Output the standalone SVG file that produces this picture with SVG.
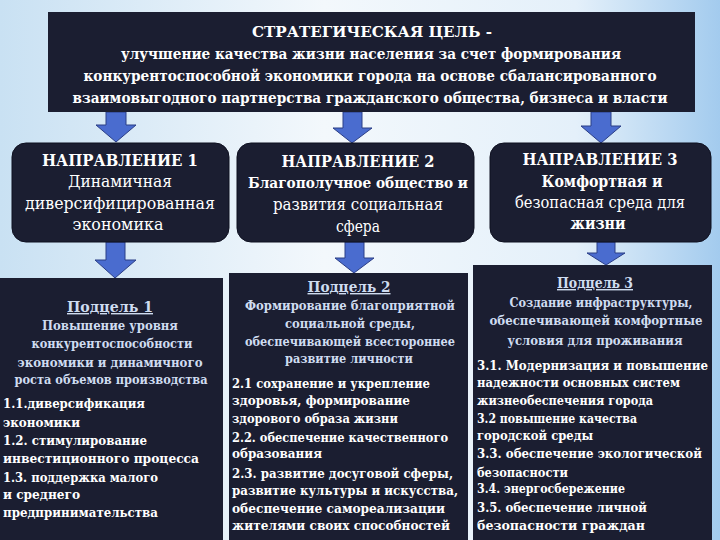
<svg xmlns="http://www.w3.org/2000/svg" width="720" height="540" viewBox="0 0 720 540">
<defs>
<linearGradient id="bg" x1="0" y1="0" x2="1" y2="0">
<stop offset="0" stop-color="#c9e1f3"/>
<stop offset="0.45" stop-color="#f3f8fc"/>
<stop offset="0.8" stop-color="#e4f0fa"/>
<stop offset="1" stop-color="#a3cbee"/>
</linearGradient>
<style>
.box{fill:#1b1e31}
.dir{fill:#1b1e31;stroke:#0e1020;stroke-width:1}
.arr{fill:#4a6ccf;stroke:#2b3e86;stroke-width:1}
.t{font-size:15px;font-weight:bold;text-anchor:middle;fill:#ffffff}
.d{font-size:16px;font-weight:bold;text-anchor:middle;fill:#ffffff}
.dn{font-size:16px;text-anchor:middle;fill:#ffffff}
.h{font-size:13px;font-weight:bold;text-anchor:middle;fill:#cfdcf0}
.hu{font-size:14px;font-weight:bold;text-anchor:middle;text-decoration:underline;fill:#cfdcf0}
.l{font-size:12.5px;font-weight:bold;fill:#ffffff}
</style>
</defs>
<rect x="0" y="0" width="720" height="540" fill="url(#bg)"/>

<g id="connectors">
<polygon class="arr" points="106,112 126,112 126,125 136,125 116,142 96,125 106,125"/>
<polygon class="arr" points="343,112 362,112 362,128 372,128 352,143 333,128 343,128"/>
<polygon class="arr" points="591,112 611,112 611,126 621,126 601,143 581,126 591,126"/>
<polygon class="arr" points="106,242 125,242 125,260 136,260 115,278 95,260 106,260"/>
<polygon class="arr" points="345,242 364,242 364,258 374,258 354,273 335,258 345,258"/>
<polygon class="arr" points="597,242 615,242 615,253 625,253 606,265 587,253 597,253"/>
</g>

<g font-family="DejaVu Serif, Liberation Serif, serif">
<g id="goal">
<rect class="box" x="48" y="12" width="647" height="100"/>
<text class="t" x="372" y="37" textLength="240" lengthAdjust="spacingAndGlyphs">СТРАТЕГИЧЕСКАЯ ЦЕЛЬ -</text>
<text class="t" x="371" y="59" textLength="500" lengthAdjust="spacingAndGlyphs">улучшение качества жизни населения за счет формирования</text>
<text class="t" x="370" y="81" textLength="573" lengthAdjust="spacingAndGlyphs">конкурентоспособной экономики города на основе сбалансированного</text>
<text class="t" x="370" y="103" textLength="595" lengthAdjust="spacingAndGlyphs" style="font-size:14px">взаимовыгодного партнерства гражданского общества, бизнеса и власти</text>
</g>

<g id="dir1">
<rect class="dir" x="12" y="143" width="217" height="99" rx="14"/>
<text class="d" x="120" y="166" textLength="156" lengthAdjust="spacingAndGlyphs">НАПРАВЛЕНИЕ 1</text>
<text class="dn" x="120" y="187" textLength="104" lengthAdjust="spacingAndGlyphs">Динамичная</text>
<text class="dn" x="120" y="209" textLength="190" lengthAdjust="spacingAndGlyphs">диверсифицированная</text>
<text class="dn" x="118" y="230" textLength="91" lengthAdjust="spacingAndGlyphs">экономика</text>
</g>

<g id="dir2">
<rect class="dir" x="237" y="143" width="237" height="99" rx="14"/>
<text class="d" x="358" y="167" textLength="153" lengthAdjust="spacingAndGlyphs">НАПРАВЛЕНИЕ 2</text>
<text class="d" x="358" y="188" textLength="220" lengthAdjust="spacingAndGlyphs" style="font-size:15px">Благополучное общество и</text>
<text class="dn" x="358" y="210" textLength="170" lengthAdjust="spacingAndGlyphs">развития социальная</text>
<text class="dn" x="358" y="232" textLength="44" lengthAdjust="spacingAndGlyphs">сфера</text>
</g>

<g id="dir3">
<rect class="dir" x="490" y="143" width="221" height="99" rx="14"/>
<text class="d" x="600" y="165" textLength="155" lengthAdjust="spacingAndGlyphs">НАПРАВЛЕНИЕ 3</text>
<text class="d" x="602" y="187" textLength="121" lengthAdjust="spacingAndGlyphs">Комфортная и</text>
<text class="dn" x="600" y="208" textLength="170" lengthAdjust="spacingAndGlyphs">безопасная среда для</text>
<text class="d" x="598" y="229" textLength="55" lengthAdjust="spacingAndGlyphs">жизни</text>
</g>

<g id="sub1">
<rect class="box" x="0" y="278" width="223" height="270"/>
<text class="hu" x="110" y="312" textLength="86" lengthAdjust="spacingAndGlyphs">Подцель 1</text>
<text class="h" x="110" y="330" textLength="136" lengthAdjust="spacingAndGlyphs">Повышение уровня</text>
<text class="h" x="112" y="348" textLength="161" lengthAdjust="spacingAndGlyphs">конкурентоспособности</text>
<text class="h" x="110" y="367" textLength="185" lengthAdjust="spacingAndGlyphs">экономики и динамичного</text>
<text class="h" x="111" y="384" textLength="193" lengthAdjust="spacingAndGlyphs">роста объемов производства</text>
<text class="l" x="3" y="408" textLength="142" lengthAdjust="spacingAndGlyphs">1.1.диверсификация</text>
<text class="l" x="3" y="427" textLength="77" lengthAdjust="spacingAndGlyphs">экономики</text>
<text class="l" x="3" y="445" textLength="144" lengthAdjust="spacingAndGlyphs">1.2. стимулирование</text>
<text class="l" x="3" y="463" textLength="196" lengthAdjust="spacingAndGlyphs">инвестиционного процесса</text>
<text class="l" x="3" y="482" textLength="155" lengthAdjust="spacingAndGlyphs">1.3. поддержка малого</text>
<text class="l" x="3" y="499" textLength="77" lengthAdjust="spacingAndGlyphs">и среднего</text>
<text class="l" x="3" y="517" textLength="155" lengthAdjust="spacingAndGlyphs">предпринимательства</text>
</g>

<g id="sub2">
<rect class="box" x="229" y="273" width="239" height="275"/>
<text class="hu" x="349" y="292" textLength="83" lengthAdjust="spacingAndGlyphs">Подцель 2</text>
<text class="h" x="350" y="310" textLength="210" lengthAdjust="spacingAndGlyphs">Формирование благоприятной</text>
<text class="h" x="350" y="328" textLength="130" lengthAdjust="spacingAndGlyphs">социальной среды,</text>
<text class="h" x="350" y="346" textLength="210" lengthAdjust="spacingAndGlyphs">обеспечивающей всестороннее</text>
<text class="h" x="349" y="363" textLength="128" lengthAdjust="spacingAndGlyphs">развитие личности</text>
<text class="l" x="232" y="388" textLength="198" lengthAdjust="spacingAndGlyphs">2.1 сохранение и укрепление</text>
<text class="l" x="232" y="405" textLength="178" lengthAdjust="spacingAndGlyphs">здоровья, формирование</text>
<text class="l" x="232" y="423" textLength="166" lengthAdjust="spacingAndGlyphs">здорового образа жизни</text>
<text class="l" x="232" y="442" textLength="216" lengthAdjust="spacingAndGlyphs">2.2. обеспечение качественного</text>
<text class="l" x="232" y="458" textLength="90" lengthAdjust="spacingAndGlyphs">образования</text>
<text class="l" x="232" y="478" textLength="221" lengthAdjust="spacingAndGlyphs">2.3. развитие досуговой сферы,</text>
<text class="l" x="232" y="495" textLength="226" lengthAdjust="spacingAndGlyphs">развитие культуры и искусства,</text>
<text class="l" x="232" y="513" textLength="213" lengthAdjust="spacingAndGlyphs">обеспечение  самореализации</text>
<text class="l" x="232" y="530" textLength="218" lengthAdjust="spacingAndGlyphs">жителями своих способностей</text>
</g>

<g id="sub3">
<rect class="box" x="473" y="265" width="239" height="283"/>
<text class="hu" x="595" y="288" textLength="76" lengthAdjust="spacingAndGlyphs">Подцель 3</text>
<text class="h" x="601" y="307" textLength="183" lengthAdjust="spacingAndGlyphs" style="font-size:12px">Создание инфраструктуры,</text>
<text class="h" x="596" y="325" textLength="213" lengthAdjust="spacingAndGlyphs" style="font-size:12px">обеспечивающей комфортные</text>
<text class="h" x="595" y="345" textLength="175" lengthAdjust="spacingAndGlyphs">условия для проживания</text>
<text class="l" x="477" y="370" textLength="231" lengthAdjust="spacingAndGlyphs">3.1. Модернизация и повышение</text>
<text class="l" x="477" y="387" textLength="203" lengthAdjust="spacingAndGlyphs">надежности основных систем</text>
<text class="l" x="477" y="405" textLength="176" lengthAdjust="spacingAndGlyphs">жизнеобеспечения города</text>
<text class="l" x="477" y="423" textLength="160" lengthAdjust="spacingAndGlyphs">3.2 повышение качества</text>
<text class="l" x="477" y="440" textLength="116" lengthAdjust="spacingAndGlyphs">городской среды</text>
<text class="l" x="477" y="458" textLength="225" lengthAdjust="spacingAndGlyphs">3.3. обеспечение экологической</text>
<text class="l" x="477" y="477" textLength="91" lengthAdjust="spacingAndGlyphs">безопасности</text>
<text class="l" x="477" y="493" textLength="148" lengthAdjust="spacingAndGlyphs">3.4. энергосбережение</text>
<text class="l" x="477" y="512" textLength="170" lengthAdjust="spacingAndGlyphs">3.5. обеспечение  личной</text>
<text class="l" x="477" y="530" textLength="168" lengthAdjust="spacingAndGlyphs">безопасности граждан</text>
</g>
</g>
</svg>
